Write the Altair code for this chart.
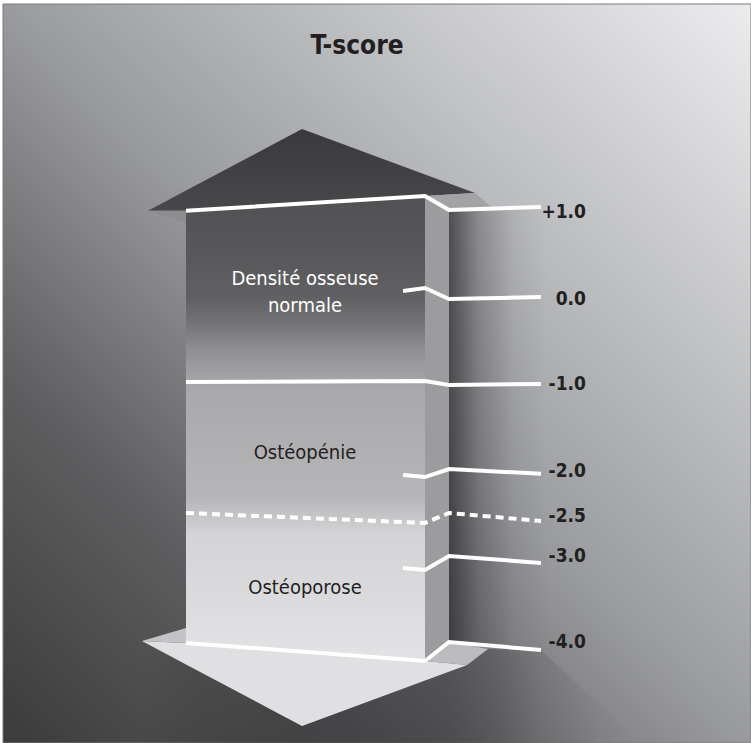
import altair as alt
import numpy as np
import pandas as pd

# ---------------- data ----------------
t_scores = [1.0, 0.0, -1.0, -2.0, -2.5, -3.0, -4.0]
tick_labels = ["+1.0", "0.0", "-1.0", "-2.0", "-2.5", "-3.0", "-4.0"]
line_full = [True, False, True, False, True, False, True]
line_dashed = [False, False, False, False, True, False, False]
categories = ["Densité osseuse\nnormale", "Ostéopénie", "Ostéoporose"]
cat_upper = [1.0, -1.0, -2.5]
cat_lower = [-1.0, -2.5, -4.0]
cat_colors = ["#ffffff", "#231f20", "#231f20"]
title_text = "T-score"

# ---------------- layout (illustration geometry) ----------------
W, H = 751, 743
PX_PER_T = 88.3
Y0 = 296.2
Y_DOMAIN = [(Y0 - H) / PX_PER_T, Y0 / PX_PER_T]
YB = Y_DOMAIN[0]
xsc = alt.Scale(domain=[0, W], nice=False, zero=False)
ysc = alt.Scale(domain=Y_DOMAIN, nice=False, zero=False)

X_L, X_FR, X_SR, X_END, X_IN, X_LAB, X_CAT = 186, 425, 449, 541, 403, 586, 305
TOP, BOT = t_scores[0], t_scores[-1]

line_offsets = [
    [-0.032, 0.135, -0.024, 0.010],
    [0.059, 0.093, -0.032, -0.009],
    [0.028, 0.040, -0.006, 0.006],
    [-0.025, -0.048, 0.043, -0.012],
    [0.045, -0.068, 0.045, -0.046],
    [-0.078, -0.101, 0.058, -0.021],
    [0.073, -0.131, 0.084, -0.007],
]
label_offsets = [-0.118, -0.100, -0.062, -0.044, -0.054, -0.014, 0.012]
cat_offsets = [0.195, -0.03, -0.055]

FONT = "DejaVu Sans Condensed, Liberation Sans Narrow, sans-serif"
INK = "#231f20"


def poly(name, upper, lower, fill="#000000"):
    ux, ut = zip(*upper)
    lx, lt = zip(*lower)
    xs = sorted(set(ux) | set(lx))
    return pd.DataFrame({"shape": [name] * len(xs), "px": [float(v) for v in xs],
                         "ta": [float(v) for v in np.interp(xs, ux, ut)],
                         "tb": [float(v) for v in np.interp(xs, lx, lt)],
                         "fillc": [fill] * len(xs)})


def area(df, color=None):
    if color is not None:
        m = alt.Chart(df).mark_area(color=color, opacity=1, interpolate="linear")
        enc = {}
    else:
        m = alt.Chart(df).mark_area(opacity=1, interpolate="linear")
        enc = {"color": alt.Color("fillc:N", scale=None)}
    return m.encode(
        x=alt.X("px:Q", scale=xsc, axis=None),
        y=alt.Y("ta:Q", scale=ysc, axis=None),
        y2=alt.Y2("tb:Q"),
        detail="shape:N",
        **enc,
    )


def grad(stops, x1=0, y1=0, x2=0, y2=1):
    return alt.Gradient(gradient="linear", x1=x1, y1=y1, x2=x2, y2=y2,
                        stops=[alt.GradientStop(color=c, offset=o) for o, c in stops])


def shade(a):
    return f"rgba(35,35,37,{a})"


one = pd.DataFrame({"a": [0]})

bg = alt.Chart(one).mark_rect(
    fill=grad([(0, "#3b3b3c"), (0.25, "#5e5e60"), (0.5, "#9a9b9e"), (0.75, "#c3c4c6"), (1, "#ececee")],
              x1=0, y1=1, x2=1, y2=0),
    stroke="#7a7a7a", strokeWidth=1,
).encode(x=alt.value(3), x2=alt.value(W), y=alt.value(4), y2=alt.value(H))

# shadow right of the column (ends at the -4 line)
side_shadow_df = poly("ss", [(X_SR, TOP - 0.024), (X_END, TOP + 0.010), (548, TOP + 0.010)],
                      [(X_SR, BOT + 0.084), (X_END, BOT - 0.007), (548, BOT - 0.007)])
side_shadow = area(side_shadow_df, color=grad(
    [(0, shade(0.7)), (0.3, shade(0.3)), (0.65, shade(0.07)), (1, shade(0))],
    x1=0, y1=0, x2=1, y2=0))

# shadow beneath the bottom arrow
SH_L, SH_R = 142, 640


def sx(x):
    return (x - SH_L) / (SH_R - SH_L)


bottom_shadow_df = poly("bs", [(SH_L, BOT + 0.095), (302, BOT - 0.868), (467, BOT - 0.177), (488, BOT + 0.004),
                               (X_END, BOT - 0.007), (SH_R, YB)],
                        [(SH_L, YB), (SH_R, YB)])
bottom_shadow = area(bottom_shadow_df, color=grad(
    [(0, shade(0)), (sx(200), shade(0.2)), (sx(300), shade(0.4)), (sx(449), shade(0.42)), (sx(500), shade(0.3)),
     (sx(541), shade(0.14)), (sx(600), shade(0.03)), (1, shade(0))],
    x1=0, y1=0, x2=1, y2=0))

barrow = pd.concat([
    poly("front", [(142, BOT + 0.095), (X_L, BOT + 0.073), (X_FR, BOT - 0.131), (467, BOT - 0.177)],
         [(142, BOT + 0.095), (302, BOT - 0.868), (467, BOT - 0.177)], "#e0e0e2"),
    poly("topl", [(142, BOT + 0.095), (X_L, BOT + 0.242)], [(142, BOT + 0.095), (X_L, BOT + 0.073)], "#c3c3c5"),
    poly("topr", [(X_FR, BOT - 0.131), (X_SR, BOT + 0.084), (488, BOT + 0.004)],
         [(X_FR, BOT - 0.131), (467, BOT - 0.177), (488, BOT + 0.004)], "#bcbcbe"),
], ignore_index=True)
barrow_layer = area(barrow)

front_df = poly("colfront", [(X_L, TOP - 0.032), (X_FR, TOP + 0.135)], [(X_L, BOT + 0.073), (X_FR, BOT - 0.131)])
front = area(front_df, color=grad([
    (0.0, "#515153"), (0.14, "#59595b"), (0.22, "#616163"), (0.27, "#727274"),
    (0.33, "#8f8f91"), (0.39, "#a3a3a5"), (0.42, "#a9a9ab"), (0.65, "#b6b6b8"),
    (0.70, "#cacacc"), (0.73, "#d4d4d6"), (0.87, "#dbdbdd"), (1.0, "#e3e3e5")]))
side_df = poly("colside", [(X_FR, TOP + 0.135), (X_SR, TOP - 0.024)], [(X_FR, BOT - 0.131), (X_SR, BOT + 0.084)], "#9c9c9e")
side = area(side_df)

tarrow_df = poly("tarrow", [(148, TOP - 0.032), (302, TOP + 0.894), (475, TOP + 0.169)],
                 [(148, TOP - 0.032), (X_L, TOP - 0.032), (X_FR, TOP + 0.135), (475, TOP + 0.169)])
tarrow = area(tarrow_df, color=grad([(0, "#3a3a3c"), (1, "#48484a")]))
tbevel = pd.concat([
    poly("bevr", [(X_FR, TOP + 0.135), (475, TOP + 0.169), (497, TOP - 0.046)],
         [(X_FR, TOP + 0.135), (X_SR, TOP - 0.024), (497, TOP - 0.046)], "#a3a3a5"),
    poly("bevl", [(148, TOP - 0.032), (X_L, TOP - 0.032)], [(148, TOP - 0.032), (X_L, TOP - 0.171)], "#8e8e90"),
], ignore_index=True)
tbevel_layer = area(tbevel)

rows = []
for i, t in enumerate(t_scores):
    xs_ = [X_L if line_full[i] else X_IN, X_FR, X_SR, X_END]
    for k, (x, off) in enumerate(zip(xs_, line_offsets[i])):
        rows.append({"level": tick_labels[i], "k": k, "px": x, "ta": t + off, "dashed": line_dashed[i]})
lines_df = pd.DataFrame(rows)
line_enc = dict(x=alt.X("px:Q", scale=xsc, axis=None), y=alt.Y("ta:Q", scale=ysc, axis=None),
                detail="level:N", order="k:Q")
solid = alt.Chart(lines_df).transform_filter("!datum.dashed").mark_line(
    color="#ffffff", strokeWidth=4, strokeJoin="miter", strokeCap="butt").encode(**line_enc)
dashed = alt.Chart(lines_df).transform_filter("datum.dashed").mark_line(
    color="#ffffff", strokeWidth=4, strokeJoin="miter", strokeCap="butt", strokeDash=[8, 5]).encode(**line_enc)

lab_df = pd.DataFrame({"label": tick_labels, "ta": [t + o for t, o in zip(t_scores, label_offsets)]})
labels = alt.Chart(lab_df).mark_text(
    align="right", baseline="alphabetic", font=FONT, fontSize=19, fontWeight="bold", color=INK
).encode(x=alt.value(X_LAB), y=alt.Y("ta:Q", scale=ysc, axis=None), text="label:N")

cat_df = pd.DataFrame({"cat": categories,
                       "ta": [(u + l) / 2 + o for u, l, o in zip(cat_upper, cat_lower, cat_offsets)],
                       "col": cat_colors})
cats = alt.Chart(cat_df).mark_text(
    align="center", baseline="middle", font=FONT, fontSize=20, lineBreak="\n", lineHeight=27
).encode(x=alt.value(X_CAT), y=alt.Y("ta:Q", scale=ysc, axis=None), text="cat:N",
         color=alt.Color("col:N", scale=None))

title = alt.Chart(one).mark_text(
    text=title_text, align="center", baseline="alphabetic", font=FONT, fontSize=26, fontWeight="bold", color=INK
).encode(x=alt.value(357), y=alt.value(54))

chart = alt.layer(
    bg, side_shadow, bottom_shadow, barrow_layer, front, side, tarrow, tbevel_layer,
    solid, dashed, labels, cats, title,
).properties(
    width=W, height=H, padding=0, autosize=alt.AutoSizeParams(type="none"), background="#ffffff"
).configure_view(stroke=None)

chart.save("out.html", embed_options={"renderer": "svg", "actions": False})
